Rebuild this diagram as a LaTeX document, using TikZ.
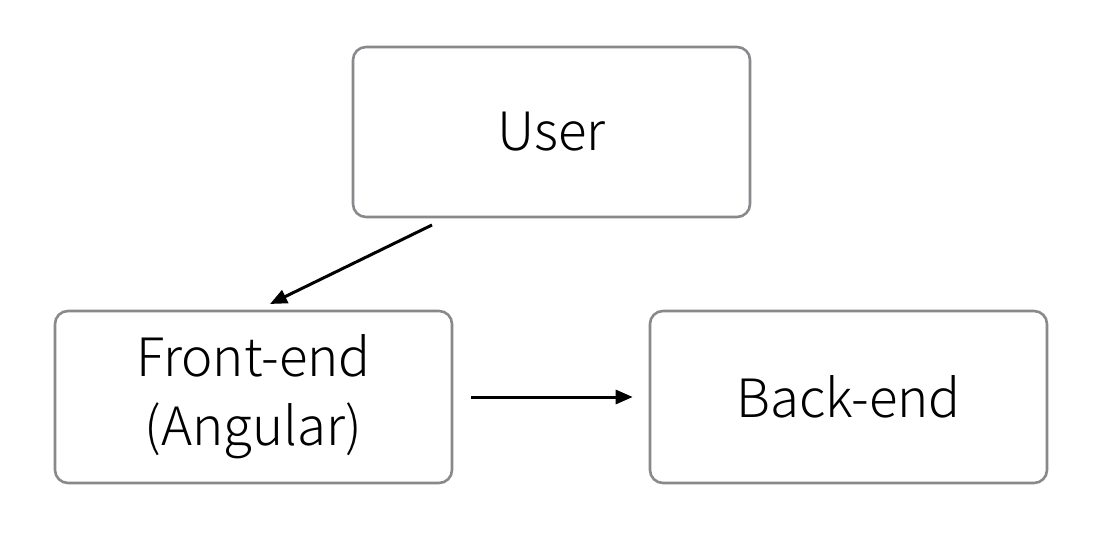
\documentclass[tikz,border=0pt]{standalone}
\usepackage{fontspec}
\setmainfont{Noto Sans CJK KR Light}
\usetikzlibrary{arrows.meta}
\definecolor{boxgray}{HTML}{87898C}
\begin{document}
\begin{tikzpicture}[x=1bp,y=-1bp,
  box/.style={draw=boxgray,line width=2.6bp,rounded corners=13bp,minimum width=397bp,align=center,font=\fontsize{53}{69}\selectfont,inner sep=0pt},
  conn/.style={line width=3bp,-{Triangle[length=17bp,width=14bp]}}]
\useasboundingbox (0,0) rectangle (1106,534);
\node[box,minimum height=170bp] (user) at (551.5,132) {User};
\node[box,minimum height=172bp] (front) at (253.5,397) {Front-end\\(Angular)};
\node[box,minimum height=172bp] (back) at (848.5,397) {Back-end};
\coordinate (u1) at (432,225);
\coordinate (f1) at (270,304);
\draw[conn] (u1) -- (f1);
\draw[conn,shorten <=18bp,shorten >=16bp] (front.east) -- (back.west);
\end{tikzpicture}
\end{document}
